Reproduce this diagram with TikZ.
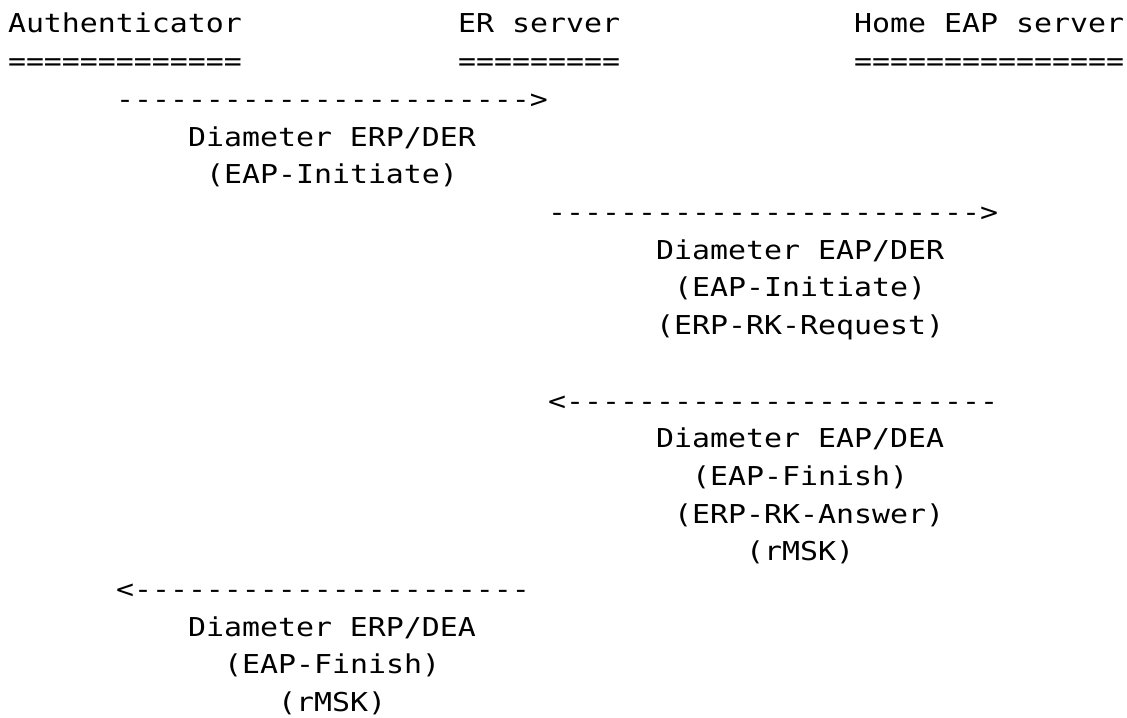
\documentclass[tikz,border=0pt]{standalone}
\usepackage{fontspec}
\setmonofont{DejaVu Sans Mono}[FakeStretch=1.15]
\begin{document}
\begin{tikzpicture}[x=0.75pt,y=-0.75pt,
  txt/.style={anchor=base west,inner sep=0pt,outer sep=0pt,font=\ttfamily\fontsize{19.5pt}{23pt}\selectfont,text=black}]
\useasboundingbox (0,0) rectangle (1127,717);
% row 0
\node[txt] (authH) at (8,33) {Authenticator};
\node[txt] (erH) at (458,33) {ER server};
\node[txt] (homeH) at (854,33) {Home EAP server};
% row 1
\node[txt] (authU) at (8,70.7) {=============};
\node[txt] (erU) at (458,70.7) {=========};
\node[txt] (homeU) at (854,70.7) {===============};
% message 1
\node[txt] (a1) at (116,108.4) {----------------------->};
\node[txt] (m1a) at (188,146.1) {Diameter ERP/DER};
\node[txt] (m1b) at (206,183.8) {(EAP-Initiate)};
% message 2
\node[txt] (a2) at (548,221.5) {------------------------>};
\node[txt] (m2a) at (656,259.2) {Diameter EAP/DER};
\node[txt] (m2b) at (674,296.9) {(EAP-Initiate)};
\node[txt] (m2c) at (656,334.6) {(ERP-RK-Request)};
% message 3
\node[txt] (a3) at (548,410) {<------------------------};
\node[txt] (m3a) at (656,447.7) {Diameter EAP/DEA};
\node[txt] (m3b) at (692,485.4) {(EAP-Finish)};
\node[txt] (m3c) at (674,523.1) {(ERP-RK-Answer)};
\node[txt] (m3d) at (746,560.8) {(rMSK)};
% message 4
\node[txt] (a4) at (116,598.5) {<----------------------};
\node[txt] (m4a) at (188,636.2) {Diameter ERP/DEA};
\node[txt] (m4b) at (224,673.9) {(EAP-Finish)};
\node[txt] (m4c) at (278,711.6) {(rMSK)};
\end{tikzpicture}
\end{document}
